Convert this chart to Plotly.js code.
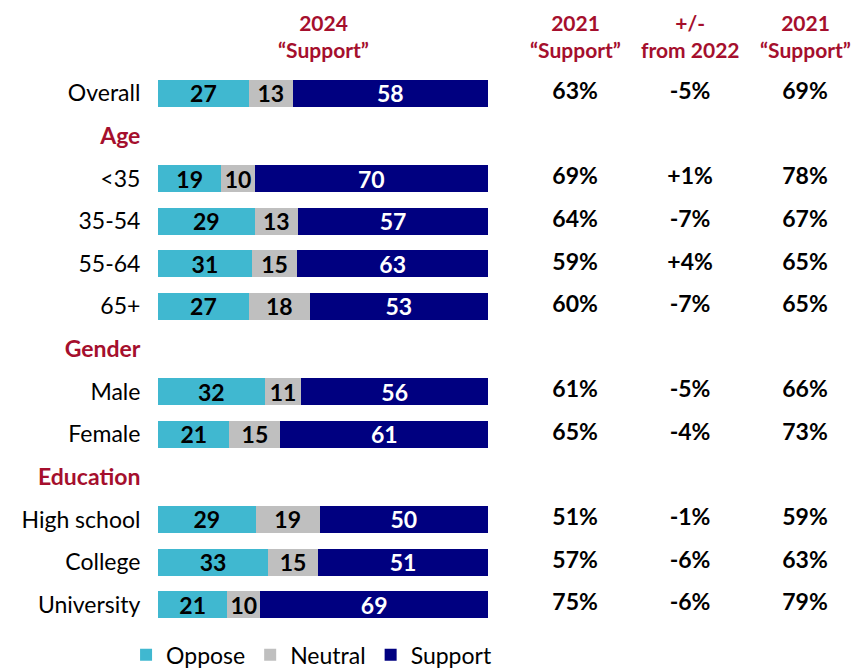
<!DOCTYPE html>
<html><head><meta charset="utf-8">
<script src="https://cdn.plot.ly/plotly-3.0.1.min.js"></script>
<style>html,body{margin:0;padding:0;background:#fff}</style>
</head><body><div id="chart" style="width:856px;height:669px"></div>
<script>
const categories = ['Overall','Age','<35','35-54','55-64','65+','Gender','Male','Female','Education','High school','College','University'];
const headers = ['Age','Gender','Education'];
const oppose  = [27,null,19,29,31,27,null,32,21,null,29,33,21];
const neutral = [13,null,10,13,15,18,null,11,15,null,19,15,10];
const support = [58,null,70,57,63,53,null,56,61,null,50,51,69];
const support2021 = ['63%','','69%','64%','59%','60%','','61%','65%','','51%','57%','75%'];
const change = ['-5%','','+1%','-7%','+4%','-7%','','-5%','-4%','','-1%','-6%','-6%'];
const support2021b = ['69%','','78%','67%','65%','65%','','66%','73%','','59%','63%','79%'];
const columnHeaders = ['2021<br>“Support”','+/-<br>from 2022','2021<br>“Support”'];
const barHeader = '2024<br>“Support”';

const RED = '#A50F2D';
const FONT = 'Lato, "Open Sans", sans-serif';
const esc = s => s.replace(/&/g,'&amp;').replace(/</g,'&lt;').replace(/>/g,'&gt;');
const ticktext = categories.map(c => headers.includes(c)
  ? `<span style="color:${RED}"><b>${esc(c)}</b></span>` : esc(c));

function barTrace(name, vals, color, txtColor){
  return {type:'bar', orientation:'h', name, x:vals, y:categories,
    marker:{color, line:{width:0}},
    text: vals.map(v => v==null ? '' : String(v)), texttemplate:'%{text}',
    textposition:'inside', insidetextanchor:'middle', constraintext:'none', textangle:0,
    textfont:{family:FONT, size:23, color:txtColor, weight:'bold'},
    hoverinfo:'skip'};
}
const traces = [
  barTrace('Oppose', oppose, '#40B8D0', '#000'),
  barTrace('Neutral', neutral, '#BFBFBF', '#000'),
  barTrace('Support', support, '#000080', '#fff'),
];
[support2021, change, support2021b].forEach((col, i) => {
  traces.push({type:'scatter', mode:'text', x:categories.map(()=>i), y:categories,
    text: col, xaxis:'x2', yaxis:'y', showlegend:false, hoverinfo:'skip',
    textfont:{family:FONT, size:23, color:'#000', weight:'bold'}});
});

const annotations = columnHeaders.map((h,i)=>({
  xref:'x2', yref:'paper', x:i, y:1.065, text:`<b>${h}</b>`, showarrow:false,
  xanchor:'center', yanchor:'middle', align:'center',
  font:{family:FONT, size:21, color:RED}}));
annotations.push({xref:'x', yref:'paper', x:50, y:1.065, text:`<b>${barHeader}</b>`,
  showarrow:false, xanchor:'center', yanchor:'middle', align:'center',
  font:{family:FONT, size:21, color:RED}});

const layout = {
  width:856, height:669,
  margin:{l:158, r:0, t:72, b:43, autoexpand:false},
  barmode:'stack', barnorm:'percent', bargap:0.37,
  paper_bgcolor:'#fff', plot_bgcolor:'#fff',
  font:{family:FONT, size:22, color:'#000'},
  xaxis:{domain:[0,0.4728], range:[0,100], visible:false, fixedrange:true},
  xaxis2:{domain:[0.4728,1], range:[-0.757,2.443], visible:false, anchor:'y'},
  yaxis:{type:'category', autorange:false, range:[12.5,-0.5],
    tickvals:categories, ticktext:ticktext, showgrid:false, zeroline:false,
    showline:false, ticks:'outside', ticklen:12, tickcolor:'rgba(0,0,0,0)',
    tickfont:{family:FONT, size:23, color:'#000'}},
  showlegend:true,
  legend:{orientation:'h', traceorder:'normal', x:0.22, xanchor:'center', y:-0.052, yanchor:'middle',
    font:{family:FONT, size:23, color:'#000'}, itemwidth:30},
  annotations
};
Plotly.newPlot('chart', traces, layout, {displayModeBar:false, staticPlot:true});
</script></body></html>
